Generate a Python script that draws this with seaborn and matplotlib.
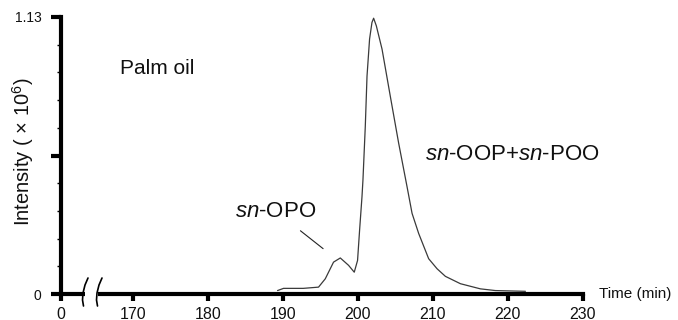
import matplotlib
matplotlib.use("Agg")
import matplotlib.pyplot as plt
import seaborn as sns
import pandas as pd
from matplotlib.lines import Line2D
from matplotlib.patches import Rectangle
from matplotlib.ticker import MultipleLocator

# ---- data ----
time_min = [189.31, 190.11, 192.73, 194.77, 195.67, 196.77, 197.67, 198.77, 199.53,
            199.97, 200.24, 200.56, 200.69, 201.00, 201.23, 201.57, 201.89, 202.11,
            202.47, 203.23, 204.33, 205.44, 206.56, 207.23, 208.11, 209.44, 210.56,
            211.67, 213.67, 216.33, 218.33, 222.33]
intensity = [0.014, 0.023, 0.023, 0.028, 0.062, 0.130, 0.147, 0.117, 0.089,
             0.137, 0.260, 0.397, 0.466, 0.684, 0.889, 1.040, 1.108, 1.125,
             1.094, 0.999, 0.807, 0.616, 0.438, 0.329, 0.247, 0.144, 0.103,
             0.072, 0.042, 0.021, 0.014, 0.011]
x_ticks = [160.4, 170, 180, 190, 200, 210, 220, 230]
x_tick_labels = ["0", "170", "180", "190", "200", "210", "220", "230"]
y_ticks = [0, 0.565, 1.13]
y_tick_labels = ["0", "", "1.13"]

df = pd.DataFrame({"Time": time_min, "Intensity": intensity})

sns.set_style("ticks")
plt.rcParams["font.family"] = ["Liberation Sans", "DejaVu Sans"]
plt.rcParams["mathtext.fontset"] = "custom"
plt.rcParams["mathtext.rm"] = "Liberation Sans"
plt.rcParams["mathtext.it"] = "Liberation Sans:italic"

W, H = 678, 320
fig = plt.figure(figsize=(W / 100, H / 100), dpi=100)
ax = fig.add_axes([60.5 / W, 1 - 294 / H, (583 - 60.5) / W, (294 - 17) / H])

sns.lineplot(data=df, x="Time", y="Intensity", ax=ax, color="#3a3a3a", lw=0.9)

ax.set_xlim(160.4, 230)
ax.set_ylim(0, 1.13)
ax.set_xticks(x_ticks)
ax.set_xticklabels(x_tick_labels)
ax.set_yticks(y_ticks)
ax.set_yticklabels(y_tick_labels)
ax.yaxis.set_minor_locator(MultipleLocator(0.113))
ax.set_xlabel("")
ax.set_ylabel("")

for s in ["top", "right"]:
    ax.spines[s].set_visible(False)
for s in ["left", "bottom"]:
    ax.spines[s].set_linewidth(3)
    ax.spines[s].set_color("black")

ax.tick_params(axis="x", which="major", length=5, width=3, pad=4.5,
               labelsize=11.5, color="black", labelcolor="#111111")
ax.tick_params(axis="y", which="major", length=7.5, width=3, pad=6,
               labelsize=10, color="black", labelcolor="#111111")
ax.tick_params(axis="y", which="minor", length=3, width=1, color="black")

# texts
ax.text(168.33, 0.921, "Palm oil", fontsize=15, ha="left", va="center", color="#111111")
ax.text(183.67, 0.338, r"$\mathit{sn}$-OPO", fontsize=16, ha="left", va="center", color="#111111")
ax.text(209.0, 0.568, r"$\mathit{sn}$-OOP+$\mathit{sn}$-POO", fontsize=16,
        ha="left", va="center", color="#111111")
ax.annotate("", xy=(195.67, 0.178), xytext=(192.07, 0.265),
            arrowprops=dict(arrowstyle="-", lw=0.8, color="#222222"))
ax.text(232.07, 0.0, "Time (min)", fontsize=11, ha="left", va="center",
        color="#111111", clip_on=False)
fig.text(23 / W, 1 - 152 / H, r"Intensity ( $\times$ 10$^{6}$)", rotation=90,
         fontsize=14.5, ha="center", va="center", color="#111111")

# axis break marks
def fp(px, py):
    return px / W, 1 - py / H

gx0, gy0 = fp(84.5, 299.5)
gx1, gy1 = fp(97.5, 288.5)
fig.add_artist(Rectangle((gx0, gy0), gx1 - gx0, gy1 - gy0, transform=fig.transFigure,
                         facecolor="white", edgecolor="none", zorder=5))
for dx in (0, 14):
    pts = [(88 + dx, 278), (85 + dx, 285), (83 + dx, 293), (82.5 + dx, 300), (83.5 + dx, 306)]
    xs = [fp(p[0], p[1])[0] for p in pts]
    ys = [fp(p[0], p[1])[1] for p in pts]
    fig.add_artist(Line2D(xs, ys, transform=fig.transFigure, color="black", lw=1.2, zorder=6))

fig.savefig("out.png", dpi=100)
